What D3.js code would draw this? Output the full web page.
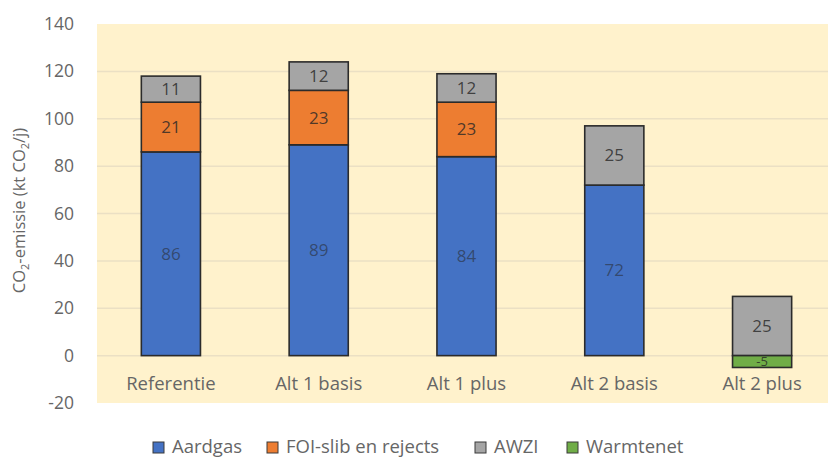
<!DOCTYPE html>
<html>
<head>
<meta charset="utf-8">
<script src="https://cdn.jsdelivr.net/npm/d3@7"></script>
<style>
  html, body { margin: 0; padding: 0; background: #ffffff; }
  svg { display: block; font-family: "Open Sans", Lato, sans-serif; }
</style>
</head>
<body>
<svg id="chart" width="828" height="460"></svg>
<script>
// Scenarios on the x axis
const categories = ["Referentie", "Alt 1 basis", "Alt 1 plus", "Alt 2 basis", "Alt 2 plus"];

// CO2 emission per source (kt CO2/j)
const aardgas   = [86, 89, 84, 72, 0];
const foiSlib   = [21, 23, 23, 0, 0];
const awzi      = [11, 12, 12, 25, 25];
const warmtenet = [0, 0, 0, 0, -5];

const seriesNames  = ["Aardgas", "FOI-slib en rejects", "AWZI", "Warmtenet"];
const seriesValues = [aardgas, foiSlib, awzi, warmtenet];
const seriesColors = ["#4472C4", "#ED7D31", "#A5A5A5", "#70AD47"];

const yTicks = [-20, 0, 20, 40, 60, 80, 100, 120, 140];

const svg = d3.select("#chart");
const plot = { left: 97, right: 836, top: 24, bottom: 403 };

const x = d3.scaleBand()
  .domain(categories)
  .range([plot.left, plot.right])
  .paddingInner(0.6)
  .paddingOuter(0.3);

const y = d3.scaleLinear()
  .domain([-20, 140])
  .range([plot.bottom, plot.top]);

// Plot area background
svg.append("rect")
  .attr("x", plot.left).attr("y", plot.top)
  .attr("width", plot.right - plot.left).attr("height", plot.bottom - plot.top)
  .attr("fill", "#FFF2CC");

// Horizontal gridlines
svg.append("g")
  .selectAll("line")
  .data(yTicks.filter(t => t > -20 && t < 140))
  .join("line")
  .attr("x1", plot.left).attr("x2", plot.right)
  .attr("y1", d => y(d)).attr("y2", d => y(d))
  .attr("stroke", "#EBE0C4")
  .attr("stroke-width", 1.5);

// Y axis tick labels
const yAxis = d3.axisLeft(y)
  .tickValues(yTicks)
  .tickFormat(d => String(d))
  .tickSize(0)
  .tickPadding(0);
const yg = svg.append("g")
  .attr("transform", `translate(74,0)`)
  .call(yAxis);
yg.select(".domain").remove();
yg.selectAll("text")
  .attr("fill", "#666666")
  .attr("font-size", 17.5)
  .attr("font-family", "'Open Sans', sans-serif");

// Y axis title
const yTitle = svg.append("text")
  .attr("transform", `translate(25,${(plot.top + plot.bottom) / 2 - 3}) rotate(-90)`)
  .attr("text-anchor", "middle")
  .attr("fill", "#666666")
  .attr("font-size", 16.5);
yTitle.append("tspan").text("CO");
yTitle.append("tspan").attr("font-size", 11).attr("dy", 4).text("2");
yTitle.append("tspan").attr("dy", -4).text("-emissie (kt CO");
yTitle.append("tspan").attr("font-size", 11).attr("dy", 4).text("2");
yTitle.append("tspan").attr("dy", -4).text("/j)");

// Stack the series: positives upward from 0, negatives downward from 0
const segments = [];
categories.forEach((cat, ci) => {
  let pos = 0, neg = 0;
  seriesValues.forEach((vals, si) => {
    const v = vals[ci];
    if (!v) return;
    let y0, y1;
    if (v >= 0) { y0 = pos; y1 = pos + v; pos = y1; }
    else { y0 = neg + v; y1 = neg; neg = y0; }
    segments.push({ cat, si, value: v, y0, y1 });
  });
});

svg.append("g")
  .selectAll("rect")
  .data(segments)
  .join("rect")
  .attr("x", d => x(d.cat))
  .attr("width", x.bandwidth())
  .attr("y", d => y(d.y1))
  .attr("height", d => y(d.y0) - y(d.y1))
  .attr("fill", d => seriesColors[d.si])
  .attr("stroke", "#2b2b2b")
  .attr("stroke-width", 1.6);

// Value labels centred in each segment
svg.append("g")
  .selectAll("text")
  .data(segments)
  .join("text")
  .attr("x", d => x(d.cat) + x.bandwidth() / 2)
  .attr("y", d => y((d.y0 + d.y1) / 2))
  .attr("dy", "0.35em")
  .attr("text-anchor", "middle")
  .attr("font-size", d => d.value < 0 ? 13 : 17)
  .attr("fill", "#262626")
  .attr("fill-opacity", d => d.si === 0 ? 0.55 : 0.8)
  .text(d => String(d.value));

// Category labels
svg.append("g")
  .selectAll("text")
  .data(categories)
  .join("text")
  .attr("x", d => x(d) + x.bandwidth() / 2)
  .attr("y", y(0) + 34)
  .attr("text-anchor", "middle")
  .attr("fill", "#666666")
  .attr("font-size", 18.5)
  .text(d => d);

// Legend
const legendX = [153, 267, 475, 567];
const legend = svg.append("g");
seriesNames.forEach((name, i) => {
  const g = legend.append("g").attr("transform", `translate(${legendX[i]},447)`);
  g.append("rect")
    .attr("x", 0).attr("y", -5)
    .attr("width", 11).attr("height", 11)
    .attr("fill", seriesColors[i])
    .attr("stroke", "#3a3a3a").attr("stroke-width", 1);
  g.append("text")
    .attr("x", 19).attr("y", 0).attr("dy", "0.35em")
    .attr("fill", "#666666")
    .attr("font-size", 18.5)
    .text(name);
});
</script>
</body>
</html>
